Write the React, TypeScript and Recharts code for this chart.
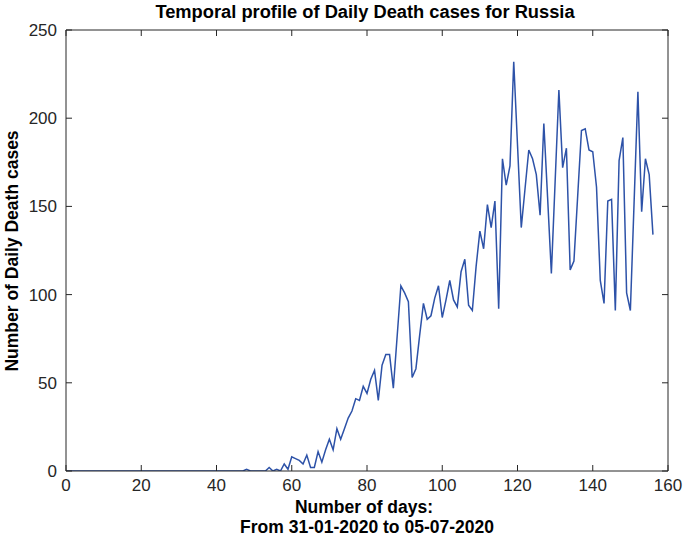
import React from 'react';
import { LineChart, Line, XAxis, YAxis } from 'recharts';

const deaths: number[] = [
  0, 0, 0, 0, 0, 0, 0, 0, 0, 0,
  0, 0, 0, 0, 0, 0, 0, 0, 0, 0,
  0, 0, 0, 0, 0, 0, 0, 0, 0, 0,
  0, 0, 0, 0, 0, 0, 0, 0, 0, 0,
  0, 0, 0, 0, 0, 0, 0, 0, 1, 0,
  0, 0, 0, 0, 2, 0, 1, 0, 4, 1,
  8, 7, 6, 4, 9, 2, 2, 11, 5, 12,
  18, 12, 24, 18, 24, 30, 34, 41, 40, 48,
  44, 52, 57, 40, 60, 66, 66, 47, 76, 105,
  101, 96, 53, 58, 77, 95, 86, 88, 98, 105,
  87, 97, 108, 97, 93, 113, 120, 94, 91, 116,
  136, 126, 151, 138, 153, 92, 177, 162, 173, 232,
  185, 138, 160, 182, 177, 168, 145, 197, 155, 112,
  164, 216, 172, 183, 114, 119, 156, 193, 194, 182,
  181, 161, 108, 95, 153, 154, 91, 176, 189, 101,
  91, 153, 215, 147, 177, 168, 134,
];

const xTicks: number[] = [0, 20, 40, 60, 80, 100, 120, 140, 160];
const yTicks: number[] = [0, 50, 100, 150, 200, 250];

const titleText = 'Temporal profile of Daily Death cases for Russia';
const xLabel1 = 'Number of days:';
const xLabel2 = 'From 31-01-2020 to 05-07-2020';
const yLabel = 'Number of Daily Death cases';

const data = deaths.map((v, i) => ({ day: i, deaths: v }));

const FONT = '"Liberation Sans", Arial, Helvetica, sans-serif';
const AXIS = '#262626';

const labelStyle: React.CSSProperties = {
  position: 'absolute',
  whiteSpace: 'nowrap',
  fontFamily: FONT,
  fontWeight: 'bold',
  color: '#000',
  transform: 'translate(-50%, -50%)',
  lineHeight: 1,
};

export default function App() {
  const blank = () => '';
  return (
    <div style={{ position: 'relative', width: 685, height: 544, fontFamily: FONT, background: '#fff' }}>
      <style>{'html,body{margin:0;padding:0;background:#fff;}'}</style>
      <LineChart
        width={685}
        height={544}
        data={data}
        margin={{ top: 0, right: 0, bottom: 0, left: 0 }}
      >
        <XAxis
          dataKey="day"
          type="number"
          domain={[0, 160]}
          ticks={xTicks}
          height={73}
          tickSize={-6}
          tickMargin={14}
          stroke={AXIS}
          tick={{ fontSize: 17, fill: AXIS, fontFamily: FONT }}
          allowDataOverflow
        />
        <XAxis
          xAxisId="top"
          orientation="top"
          dataKey="day"
          type="number"
          domain={[0, 160]}
          ticks={xTicks}
          height={30}
          tickSize={-6}
          tickFormatter={blank}
          stroke={AXIS}
          allowDataOverflow
        />
        <YAxis
          type="number"
          domain={[0, 250]}
          ticks={yTicks}
          width={66}
          tickSize={-6}
          tickMargin={15}
          stroke={AXIS}
          tick={{ fontSize: 17, fill: AXIS, fontFamily: FONT }}
          allowDataOverflow
        />
        <YAxis
          yAxisId="right"
          orientation="right"
          type="number"
          domain={[0, 250]}
          ticks={yTicks}
          width={17}
          tickSize={-6}
          tickFormatter={blank}
          stroke={AXIS}
          allowDataOverflow
        />
        <Line
          type="linear"
          dataKey="deaths"
          stroke="#2d52a8"
          strokeWidth={1.5}
          dot={false}
          activeDot={false}
          isAnimationActive={false}
        />
      </LineChart>
      <div style={{ ...labelStyle, left: 365, top: 12, fontSize: 18.3 }}>{titleText}</div>
      <div style={{ ...labelStyle, left: 364, top: 508, fontSize: 17.5 }}>{xLabel1}</div>
      <div style={{ ...labelStyle, left: 367, top: 528, fontSize: 17.5 }}>{xLabel2}</div>
      <div
        style={{
          ...labelStyle,
          left: 13,
          top: 251,
          fontSize: 17.5,
          transform: 'translate(-50%, -50%) rotate(-90deg)',
        }}
      >
        {yLabel}
      </div>
    </div>
  );
}
